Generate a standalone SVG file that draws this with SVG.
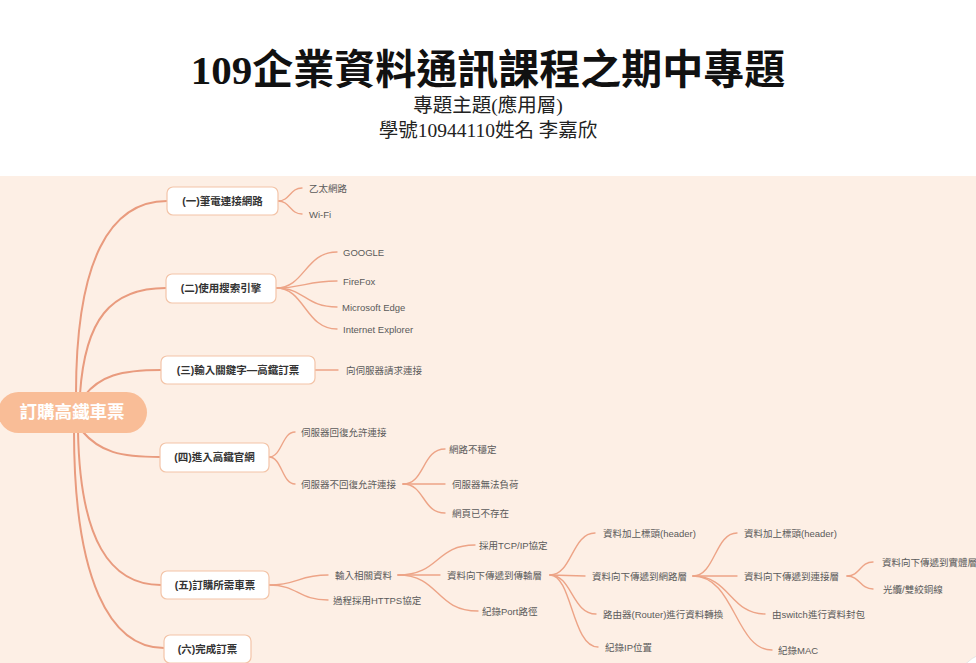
<svg xmlns="http://www.w3.org/2000/svg" width="976" height="663" viewBox="0 0 976 663">
<style>
.title{font-family:"Liberation Serif","Noto Sans CJK TC",serif;font-weight:bold;font-size:41px;fill:#111}
.sub{font-family:"Liberation Serif","Noto Sans CJK TC",serif;font-size:19.5px;fill:#222}
.node rect{fill:#fff;stroke:#f3c4a8;stroke-width:1.2}
.nt{font-family:"Liberation Sans","Noto Sans CJK TC",sans-serif;font-weight:bold;font-size:10.5px;fill:#333;text-anchor:middle}
.lt{font-family:"Liberation Sans","Noto Sans CJK TC",sans-serif;font-size:9.5px;fill:#5a5a5a}
.main{fill:none;stroke:#e99b7e;stroke-width:2;stroke-linecap:round}
.br{fill:none;stroke:#eda487;stroke-width:1.4;stroke-linecap:round}
</style>
<rect x="0" y="0" width="976" height="663" fill="#fff"/>
<rect x="0" y="176" width="976" height="487" fill="#fdefe5"/>
<circle cx="1000" cy="700" r="50" fill="#fff" stroke="#e6e6e6" stroke-width="1"/>
<text class="title" x="488" y="84" text-anchor="middle">109企業資料通訊課程之期中專題</text>
<text class="sub" x="488" y="112" text-anchor="middle">專題主題(應用層)</text>
<text class="sub" x="488" y="137" text-anchor="middle">學號10944110姓名 李嘉欣</text>
<g id="connectors">
<path class="main" d="M76 394 C76 260,110 201,167 201"/>
<path class="main" d="M80 394 C85 320,110 288,166 288"/>
<path class="main" d="M84 396 C100 376,120 370,161 370"/>
<path class="main" d="M82 431 C100 452,120 457,160 457"/>
<path class="main" d="M78 431 C80 540,110 585,161 585"/>
<path class="main" d="M74 431 C74 580,110 648,164 648"/>
<path class="br" d="M278 201 C290 201,290 188,302 188"/>
<path class="br" d="M278 201 C290 201,290 214,302 214"/>
<path class="br" d="M276 288 C305 288,305 252,337 252"/>
<path class="br" d="M276 288 C305 288,305 281,337 281"/>
<path class="br" d="M276 288 C305 288,305 307,337 307"/>
<path class="br" d="M276 288 C305 288,305 329,337 329"/>
<path class="br" d="M315 370 L338 370"/>
<path class="br" d="M269 457 C282 457,282 432,295 432"/>
<path class="br" d="M269 457 C282 457,282 484,295 484"/>
<path class="br" d="M403 484 C425 484,422 449,445 449"/>
<path class="br" d="M403 484 L445 484"/>
<path class="br" d="M403 484 C425 484,422 513,445 513"/>
<path class="br" d="M269 585 C298 585,298 575,328 575"/>
<path class="br" d="M269 585 C298 585,298 600,328 600"/>
<path class="br" d="M398 575 C440 575,435 545,475 545"/>
<path class="br" d="M398 575 L440 575"/>
<path class="br" d="M398 575 C440 575,435 611,478 611"/>
<path class="br" d="M550 575 C572 575,572 533,595 533"/>
<path class="br" d="M550 575 L585 576"/>
<path class="br" d="M550 575 C572 575,572 614,596 614"/>
<path class="br" d="M550 575 C572 575,572 647,598 647"/>
<path class="br" d="M693 576 C715 576,715 533,737 533"/>
<path class="br" d="M693 576 L737 576"/>
<path class="br" d="M693 576 C730 576,730 614,765 614"/>
<path class="br" d="M693 576 C735 576,735 650,772 650"/>
<path class="br" d="M847 576 C860 576,860 562,873 562"/>
<path class="br" d="M847 576 C860 576,860 589,873 589"/>
</g>
<g id="root"><rect x="-2" y="392" width="149" height="41" rx="20.5" fill="#f9bd97"/><text x="72" y="418" text-anchor="middle" font-family="'Liberation Sans','Noto Sans CJK TC',sans-serif" font-weight="bold" font-size="17.5" fill="#fff">訂購高鐵車票</text></g>
<g id="n1" class="node"><rect x="167" y="187" width="111" height="28" rx="6"/><text class="nt" x="222.5" y="205">(一)筆電連接網路</text></g>
<g id="n2" class="node"><rect x="166" y="274" width="110" height="29" rx="6"/><text class="nt" x="221" y="292">(二)使用搜索引擎</text></g>
<g id="n3" class="node"><rect x="161" y="356" width="154" height="28" rx="6"/><text class="nt" x="238" y="374">(三)輸入關鍵字—高鐵訂票</text></g>
<g id="n4" class="node"><rect x="160" y="443" width="109" height="29" rx="6"/><text class="nt" x="214.5" y="461">(四)進入高鐵官網</text></g>
<g id="n5" class="node"><rect x="161" y="571" width="108" height="28" rx="6"/><text class="nt" x="215" y="589">(五)訂購所需車票</text></g>
<g id="n6" class="node"><rect x="164" y="635" width="87" height="28" rx="6"/><text class="nt" x="207.5" y="653">(六)完成訂票</text></g>
<g id="l1a"><text class="lt" x="309" y="192">乙太網路</text></g>
<g id="l1b"><text class="lt" x="309" y="218">Wi-Fi</text></g>
<g id="l2a"><text class="lt" x="343" y="256">GOOGLE</text></g>
<g id="l2b"><text class="lt" x="343" y="285">FireFox</text></g>
<g id="l2c"><text class="lt" x="342" y="311">Microsoft Edge</text></g>
<g id="l2d"><text class="lt" x="343" y="333">Internet Explorer</text></g>
<g id="l3a"><text class="lt" x="346" y="374">向伺服器請求連接</text></g>
<g id="l4a"><text class="lt" x="301" y="436">伺服器回復允許連接</text></g>
<g id="l4b"><text class="lt" x="301" y="488">伺服器不回復允許連接</text></g>
<g id="l4b1"><text class="lt" x="449" y="453">網路不穩定</text></g>
<g id="l4b2"><text class="lt" x="452" y="488">伺服器無法負荷</text></g>
<g id="l4b3"><text class="lt" x="452" y="517">網頁已不存在</text></g>
<g id="l5a"><text class="lt" x="335" y="579">輸入相關資料</text></g>
<g id="l5b"><text class="lt" x="333" y="604">過程採用HTTPS協定</text></g>
<g id="l5a1"><text class="lt" x="479" y="549">採用TCP/IP協定</text></g>
<g id="l5a2"><text class="lt" x="447" y="579">資料向下傳遞到傳輸層</text></g>
<g id="l5a3"><text class="lt" x="482" y="615">紀錄Port路徑</text></g>
<g id="t1"><text class="lt" x="603" y="537">資料加上標頭(header)</text></g>
<g id="t2"><text class="lt" x="592" y="580">資料向下傳遞到網路層</text></g>
<g id="t3"><text class="lt" x="603" y="618">路由器(Router)進行資料轉換</text></g>
<g id="t4"><text class="lt" x="605" y="651">紀錄IP位置</text></g>
<g id="u1"><text class="lt" x="744" y="537">資料加上標頭(header)</text></g>
<g id="u2"><text class="lt" x="744" y="580">資料向下傳遞到連接層</text></g>
<g id="u3"><text class="lt" x="772" y="618">由switch進行資料封包</text></g>
<g id="u4"><text class="lt" x="778" y="654">紀錄MAC</text></g>
<g id="v1"><text class="lt" x="882" y="566">資料向下傳遞到實體層</text></g>
<g id="v2"><text class="lt" x="883" y="593">光纜/雙絞銅線</text></g>
</svg>
